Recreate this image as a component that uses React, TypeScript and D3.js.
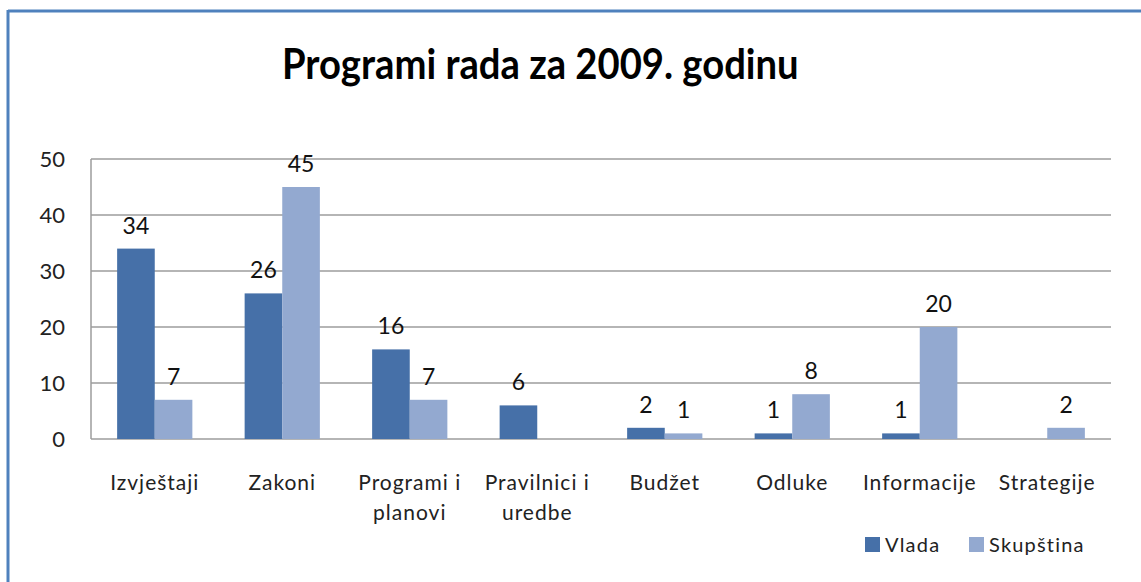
import React from "react";
import * as d3 from "d3";

const categories: string[][] = [
  ["Izvještaji"],
  ["Zakoni"],
  ["Programi i", "planovi"],
  ["Pravilnici i", "uredbe"],
  ["Budžet"],
  ["Odluke"],
  ["Informacije"],
  ["Strategije"],
];
const vlada: (number | null)[] = [34, 26, 16, 6, 2, 1, 1, null];
const skupstina: (number | null)[] = [7, 45, 7, null, 1, 8, 20, 2];
const seriesNames = ["Vlada", "Skupština"];
const yTicks = [0, 10, 20, 30, 40, 50];
const title = "Programi rada za 2009. godinu";

const W = 1141;
const H = 582;
const FONT = "Lato, 'Open Sans', sans-serif";
const colors = ["#4670a8", "#93a9d0"];

export default function App() {
  const left = 91, right = 1111, top = 159, bottom = 439;
  const y = d3.scaleLinear().domain([0, 50]).range([bottom, top]);
  const keys = categories.map((c) => c.join(" "));
  const x = d3.scaleBand<string>().domain(keys).range([left, right]).padding(0);
  const groupW = x.bandwidth() * 0.59;
  const sub = d3
    .scaleBand<string>()
    .domain(seriesNames)
    .range([(x.bandwidth() - groupW) / 2, (x.bandwidth() + groupW) / 2])
    .padding(0);
  const series = [vlada, skupstina];

  return (
    <svg
      width={W}
      height={H}
      style={{ position: "absolute", left: 0, top: 0, background: "#fff" }}
      fontFamily={FONT}
    >
      <rect x={0} y={0} width={W} height={H} fill="#fff" />
      {/* frame */}
      <line x1={8} y1={11} x2={W} y2={11} stroke="#4f81bd" strokeWidth={3} />
      <line x1={8} y1={10} x2={8} y2={H} stroke="#4f81bd" strokeWidth={3} />

      <text
        transform="translate(282,79) scale(0.91,1)"
        fontSize={42}
        fontWeight="bold"
        fill="#000"
      >
        {title}
      </text>

      {/* gridlines */}
      {yTicks.map((t) => (
        <g key={t}>
          <line x1={left} x2={right} y1={y(t)} y2={y(t)} stroke="#9d9d9d" strokeWidth={1.5} />
          <text x={65} y={y(t)} dy="0.36em" textAnchor="end" fontSize={22} fill="#222">
            {t}
          </text>
        </g>
      ))}
      <line x1={left} x2={left} y1={top} y2={bottom} stroke="#9d9d9d" strokeWidth={1.5} />

      {/* bars */}
      {series.map((vals, si) =>
        vals.map((v, i) => {
          if (v === null) return null;
          const bx = (x(keys[i]) as number) + (sub(seriesNames[si]) as number);
          const bw = sub.bandwidth();
          return (
            <g key={si + "-" + i}>
              <rect x={bx} y={y(v)} width={bw} height={y(0) - y(v)} fill={colors[si]} />
              <text
                x={bx + bw / 2}
                y={y(v) - 15}
                textAnchor="middle"
                fontSize={23}
                fill="#111"
              >
                {v}
              </text>
            </g>
          );
        })
      )}

      {/* category labels */}
      {categories.map((lines, i) => {
        const cx = (x(keys[i]) as number) + x.bandwidth() / 2;
        return (
          <text key={i} textAnchor="middle" fontSize={21} letterSpacing={1} fill="#222">
            {lines.map((l, j) => (
              <tspan key={j} x={cx} y={490 + j * 30}>
                {l}
              </tspan>
            ))}
          </text>
        );
      })}

      {/* legend */}
      {seriesNames.map((n, i) => {
        const lx = [865, 969][i];
        return (
          <g key={n}>
            <rect x={lx} y={537} width={15} height={15} fill={colors[i]} />
            <text x={lx + 20} y={552} fontSize={20} letterSpacing={1.2} fill="#222">
              {n}
            </text>
          </g>
        );
      })}
    </svg>
  );
}
